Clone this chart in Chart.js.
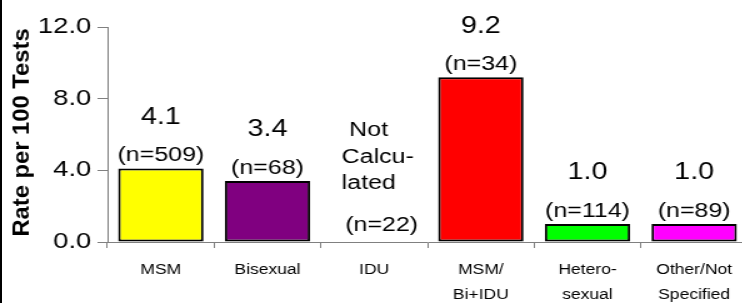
<!DOCTYPE html>
<html>
<head>
<meta charset="utf-8">
<script src="https://cdn.jsdelivr.net/npm/chart.js@4.4.1/dist/chart.umd.min.js"></script>
<style>
  html, body { margin: 0; padding: 0; background: #fff; }
  body { width: 742px; height: 303px; overflow: hidden; position: relative; }
  #frame { position: absolute; left: 0; top: 0; width: 2px; height: 303px; background: #000; z-index: 2; }
  /* the original picture is stretched sideways, so the chart is drawn narrow and widened */
  #wrap { position: absolute; left: 0; top: 0; width: 610px; height: 303px; transform: scaleX(1.25); transform-origin: 0 0; }
</style>
</head>
<body>
<div id="frame"></div>
<div id="wrap"><canvas id="rateChart"></canvas></div>
<script>
// categories and values
const groups = ["MSM", "Bisexual", "IDU", ["MSM/", "Bi+IDU"], ["Hetero-", "sexual"], ["Other/Not", "Specified"]];
const rates = [4.1, 3.4, null, 9.2, 1.0, 1.0];
const counts = [509, 68, 22, 34, 114, 89];
const barColors = ["#ffff00", "#800080", "#ff0000", "#ff0000", "#00ff00", "#ff00ff"];
const yTicks = [0, 4, 8, 12];

const FONT = "'Liberation Sans', Arial, sans-serif";
const STRETCH = 1.25;

// value + (n=..) labels above each bar, and the y title
const barLabels = {
    id: "barLabels",
    afterDatasetsDraw(chart) {
        const ctx = chart.ctx;
        const meta = chart.getDatasetMeta(0);
        const yScale = chart.scales.y;
        const base = yScale.getPixelForValue(0);
        ctx.save();
        ctx.fillStyle = "#000";
        ctx.textBaseline = "middle";
        meta.data.forEach((bar, i) => {
            const x = bar.x;
            if (rates[i] === null) {
                ctx.font = "20px " + FONT;
                ctx.textAlign = "left";
                ctx.fillText("Not", x - 20, base - 112);
                ctx.fillText("Calcu-", x - 26, base - 85);
                ctx.fillText("lated", x - 26, base - 59);
                ctx.textAlign = "center";
                ctx.fillText("(n=" + counts[i] + ")", x + 6, base - 17);
                return;
            }
            const top = bar.y;
            ctx.textAlign = "center";
            ctx.font = "20px " + FONT;
            ctx.fillText("(n=" + counts[i] + ")", x, top - 13);
            ctx.font = "23px " + FONT;
            ctx.fillText(rates[i].toFixed(1), x, top - 51);
        });

        // rotated axis title, not widened
        const midY = (yScale.top + yScale.bottom) / 2 - 2;
        ctx.translate(23 / STRETCH, midY);
        ctx.scale(1 / STRETCH, 1);
        ctx.rotate(-Math.PI / 2);
        ctx.scale(1.08, 1);
        ctx.font = "bold 22px " + FONT;
        ctx.textAlign = "center";
        ctx.fillText("Rate per 100 Tests", 0, 0);
        ctx.restore();
    }
};

new Chart(document.getElementById("rateChart"), {
    type: "bar",
    data: {
        labels: groups,
        datasets: [{
            data: rates,
            backgroundColor: barColors,
            borderColor: "#000",
            borderWidth: 2,
            borderSkipped: false,
            barPercentage: 0.8,
            categoryPercentage: 1.0
        }]
    },
    options: {
        responsive: true,
        maintainAspectRatio: false,
        animation: false,
        layout: { padding: { top: 27, right: 12, left: 0, bottom: 0 } },
        plugins: { legend: { display: false }, tooltip: { enabled: false } },
        scales: {
            x: {
                border: { color: "#808080", width: 1 },
                grid: { drawOnChartArea: false, drawTicks: true, tickLength: 6, color: "#808080" },
                ticks: { color: "#000", font: { family: FONT, size: 14, lineHeight: 1.75 }, padding: 10, maxRotation: 0, autoSkip: false },
                afterFit(scale) { scale.height = 61; }
            },
            y: {
                min: 0,
                max: 12,
                border: { color: "#808080", width: 1 },
                grid: { drawOnChartArea: false, drawTicks: true, tickLength: 8, color: "#808080" },
                afterBuildTicks(scale) { scale.ticks = yTicks.map(v => ({ value: v })); },
                ticks: {
                    color: "#000",
                    font: { family: FONT, size: 22 },
                    padding: 5,
                    callback: v => Number(v).toFixed(1)
                },
                afterFit(scale) { scale.width = 86; }
            }
        }
    },
    plugins: [barLabels]
});
</script>
</body>
</html>
